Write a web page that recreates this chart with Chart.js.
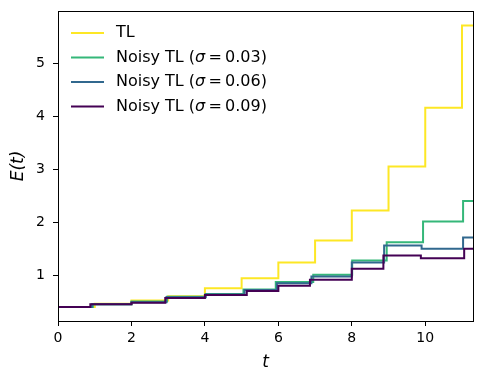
<!DOCTYPE html>
<html>
<head>
<meta charset="utf-8">
<script src="https://cdn.jsdelivr.net/npm/chart.js@4/dist/chart.umd.min.js"></script>
<style>
    html, body { margin: 0; padding: 0; background: #fff; }
    #wrap { width: 485px; height: 384px; }
</style>
</head>
<body>
<div id="wrap"><canvas id="chart"></canvas></div>
<script>
// Axis limits and ticks
const X_MIN = 0, X_MAX = 11.3;
const Y_MIN = 0.134, Y_MAX = 5.986;
const X_TICKS = [0, 2, 4, 6, 8, 10];
const Y_TICKS = [1, 2, 3, 4, 5];

// TL
const tlTimes = [0, 1, 2, 3, 4, 5, 6, 7, 8, 9, 10, 11];
const tlValues = [0.40, 0.46, 0.52, 0.60, 0.75, 0.94, 1.24, 1.655, 2.22, 3.05, 4.16, 5.71];

// Noisy TL, sigma = 0.03
const noisy003Times = [0, 0.95, 2.0, 2.97, 4.02, 5.05, 5.93, 6.95, 8.01, 8.95, 9.94, 11.03];
const noisy003Values = [0.40, 0.45, 0.50, 0.59, 0.645, 0.73, 0.87, 1.005, 1.275, 1.62, 2.01, 2.40];

// Noisy TL, sigma = 0.06
const noisy006Times = [0, 0.92, 2.0, 2.95, 4.02, 5.08, 5.96, 6.9, 8.0, 8.88, 9.9, 11.03];
const noisy006Values = [0.40, 0.45, 0.49, 0.58, 0.635, 0.72, 0.845, 0.975, 1.24, 1.56, 1.50, 1.71];

// Noisy TL, sigma = 0.09
const noisy009Times = [0, 0.88, 2.0, 2.92, 4.0, 5.14, 6.0, 6.86, 8.0, 8.86, 9.88, 11.06];
const noisy009Values = [0.40, 0.45, 0.48, 0.57, 0.625, 0.70, 0.80, 0.915, 1.12, 1.37, 1.32, 1.50];

const FONT = "'DejaVu Sans', 'Liberation Sans', sans-serif";

// step-post points, held on to the right edge of the axes
function stepPoints(times, values) {
    const pts = times.map((t, i) => ({ x: t, y: values[i] }));
    pts.push({ x: X_MAX, y: values[values.length - 1] });
    return pts;
}

const series = [
    { label: 'TL', sigma: null, color: '#fde725', times: tlTimes, values: tlValues },
    { label: 'Noisy TL', sigma: '0.03', color: '#35b779', times: noisy003Times, values: noisy003Values },
    { label: 'Noisy TL', sigma: '0.06', color: '#31688e', times: noisy006Times, values: noisy006Values },
    { label: 'Noisy TL', sigma: '0.09', color: '#440154', times: noisy009Times, values: noisy009Values }
];

// full box around the plot area
const frameBox = {
    id: 'frameBox',
    afterDraw: (chart) => {
        const { ctx, chartArea: a } = chart;
        ctx.save();
        ctx.strokeStyle = '#000';
        ctx.lineWidth = 1;
        ctx.strokeRect(Math.round(a.left) + 0.5, Math.round(a.top) + 0.5,
            Math.round(a.right - a.left), Math.round(a.bottom - a.top));
        ctx.restore();
    }
};

// matplotlib-style legend in the upper left, with italic sigma
const insideLegend = {
    id: 'insideLegend',
    afterDraw: (chart) => {
        const ctx = chart.ctx;
        const a = chart.chartArea;
        const x0 = a.left + 13, x1 = a.left + 46, tx = a.left + 58;
        let y = a.top + 22;
        ctx.save();
        ctx.textBaseline = 'middle';
        series.forEach(s => {
            ctx.beginPath();
            ctx.moveTo(x0, y);
            ctx.lineTo(x1, y);
            ctx.lineWidth = 2;
            ctx.strokeStyle = s.color;
            ctx.stroke();

            ctx.fillStyle = '#000';
            let x = tx;
            const parts = s.sigma === null
                ? [[s.label, false]]
                : [[s.label + ' (', false], ['\u03c3', true], ['\u2009=\u2009' + s.sigma + ')', false]];
            parts.forEach(([txt, italic]) => {
                ctx.font = (italic ? 'italic ' : '') + '16px ' + FONT;
                ctx.fillText(txt, x, y);
                x += ctx.measureText(txt).width;
            });
            y += 24.5;
        });
        ctx.restore();
    }
};

const axisCommon = {
    type: 'linear',
    grid: {
        display: true,
        drawOnChartArea: false,
        drawTicks: true,
        tickLength: 5,
        tickColor: '#000',
        tickWidth: 1
    },
    border: { display: true, color: '#000', width: 1 }
};

new Chart(document.getElementById('chart'), {
    type: 'line',
    data: {
        datasets: series.map((s, i) => ({
            label: s.label,
            data: stepPoints(s.times, s.values),
            borderColor: s.color,
            backgroundColor: s.color,
            borderWidth: 2,
            stepped: 'before',
            pointRadius: 0,
            fill: false,
            clip: 0,
            order: series.length - 1 - i
        }))
    },
    options: {
        responsive: true,
        maintainAspectRatio: false,
        animation: false,
        devicePixelRatio: 1,
        layout: { padding: { top: 11, right: 12, left: 0, bottom: 0 } },
        plugins: {
            legend: { display: false },
            tooltip: { enabled: false }
        },
        scales: {
            x: {
                ...axisCommon,
                min: X_MIN,
                max: X_MAX,
                afterBuildTicks: (scale) => { scale.ticks = X_TICKS.map(v => ({ value: v })); },
                afterFit: (scale) => { scale.height = 63; scale.paddingLeft = 0; scale.paddingRight = 0; },
                ticks: {
                    color: '#000',
                    padding: 4,
                    maxRotation: 0,
                    autoSkip: false,
                    font: { family: FONT, size: 14 }
                },
                title: {
                    display: true,
                    text: 't',
                    color: '#000',
                    padding: { top: 0, bottom: 11 },
                    font: { family: FONT, size: 17, style: 'italic' }
                }
            },
            y: {
                ...axisCommon,
                min: Y_MIN,
                max: Y_MAX,
                afterBuildTicks: (scale) => { scale.ticks = Y_TICKS.map(v => ({ value: v })); },
                afterFit: (scale) => { scale.width = 58; scale.paddingTop = 0; scale.paddingBottom = 0; },
                ticks: {
                    color: '#000',
                    padding: 8,
                    autoSkip: false,
                    font: { family: FONT, size: 14 }
                },
                title: {
                    display: true,
                    text: 'E(t)',
                    color: '#000',
                    padding: { top: 8, bottom: 0 },
                    font: { family: FONT, size: 17, style: 'italic' }
                }
            }
        }
    },
    plugins: [frameBox, insideLegend]
});
</script>
</body>
</html>
